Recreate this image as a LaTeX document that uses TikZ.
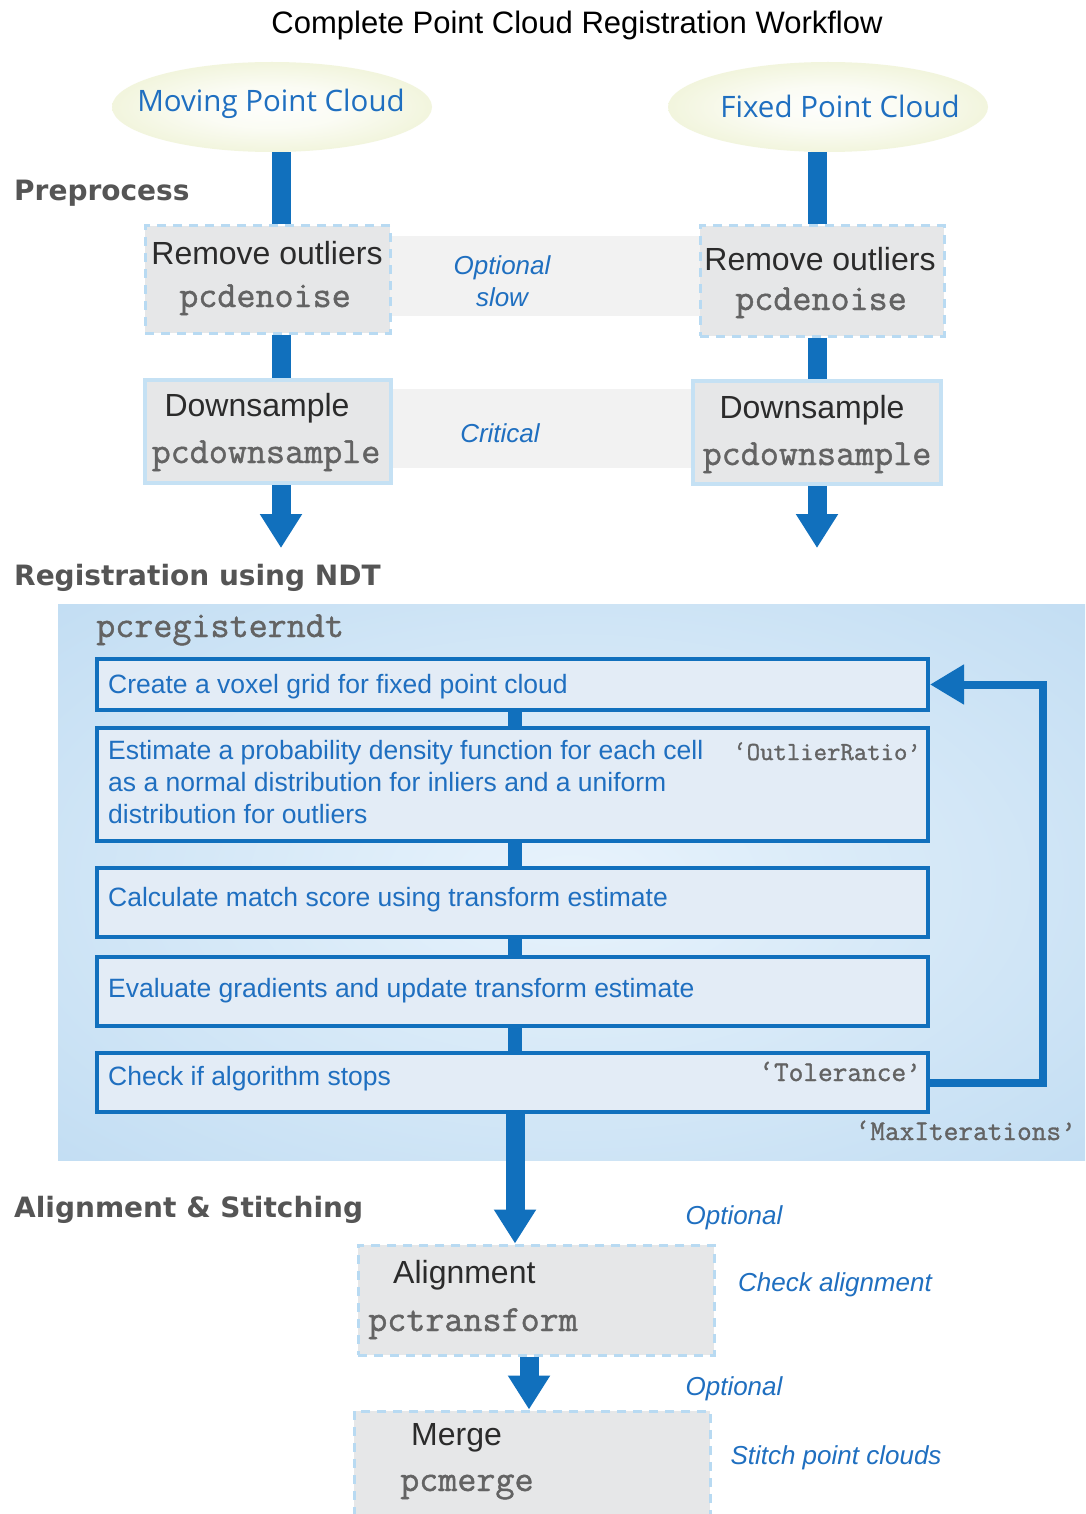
\documentclass[tikz,border=0pt]{standalone}
\usepackage{fontspec}
\setmainfont{Liberation Sans}
\newfontfamily\ellfont{Open Sans}
\newfontfamily\headfont{DejaVu Sans}
\newfontfamily\codefont[FakeBold=1.2]{Latin Modern Mono}
\usetikzlibrary{arrows.meta,shapes.geometric}
\pgfdeclarelayer{background}
\pgfsetlayers{background,main}
\definecolor{dblue}{HTML}{1170BD}
\definecolor{tblue}{HTML}{1F6FC0}
\definecolor{lblue}{HTML}{B8DAF2}
\definecolor{lblue2}{HTML}{C5E1F4}
\definecolor{boxgray}{HTML}{E6E7E8}
\definecolor{bandgray}{HTML}{F2F2F2}
\definecolor{iboxfill}{HTML}{E3ECF6}
\definecolor{txtdark}{HTML}{2B2B2B}
\definecolor{codegray}{HTML}{636363}
\definecolor{headgray}{HTML}{555555}
\definecolor{ellyel}{HTML}{E1E8B2}
\definecolor{regin}{HTML}{E8F3FC}
\definecolor{regout}{HTML}{C0DCF2}
\pgfdeclareradialshading{ellsh}{\pgfpoint{0bp}{0bp}}{color(0bp)=(white!96!ellyel); color(12bp)=(white!85!ellyel); color(50bp)=(ellyel)}
\pgfdeclareradialshading{regsh}{\pgfpoint{0bp}{0bp}}{color(0bp)=(regin); color(38bp)=(regout); color(72bp)=(regout)}
\newcommand\fsz[2]{\fontsize{#1}{#2}\selectfont}
\tikzset{
  mybar/.style={draw=dblue, line width=19pt},
  myarrow/.style={draw=dblue, line width=19pt, -{Triangle[width=40pt,length=34pt]}},
  myconn/.style={draw=dblue, line width=14pt},
  myloop/.style={draw=dblue, line width=8pt, -{Triangle[width=38pt,length=34pt]}},
  gbox/.style={rectangle, fill=boxgray, draw=lblue, line width=3pt, dash pattern=on 9pt off 7pt, inner sep=0pt},
  sbox/.style={rectangle, fill=boxgray, draw=lblue2, line width=3.5pt, inner sep=0pt},
  myband/.style={rectangle, fill=bandgray, inner sep=0pt},
  ibox/.style={rectangle, fill=iboxfill, draw=dblue, line width=4pt, inner sep=0pt, minimum width=831pt},
  lbl/.style={font=\fsz{32}{38}, text=txtdark, inner sep=0pt},
  code/.style={font=\codefont\fsz{37}{42}, text=codegray, inner sep=0pt},
  scode/.style={font=\codefont\fsz{26}{30}, text=codegray, inner sep=0pt, anchor=east},
  mynote/.style={font=\itshape\fsz{26}{31}, text=tblue, inner sep=0pt},
  itxt/.style={font=\fsz{26.5}{32}, text=tblue, inner sep=0pt, anchor=west, align=left},
  myhead/.style={font=\headfont\bfseries\fsz{28}{34}, text=headgray, anchor=west, inner sep=0pt},
  ellt/.style={font=\ellfont\fsz{29.5}{35}, text=tblue, inner sep=0pt},
}
\begin{document}
\begin{tikzpicture}[x=1pt,y=-1pt]
\useasboundingbox (0,0) rectangle (1085,1514);
\clip (0,0) rectangle (1085,1514);
\begin{pgfonlayer}{background}
\fill[white] (0,0) rectangle (1085,1514);
\end{pgfonlayer}

% title
\node[font=\fsz{31}{37}, text=black, inner sep=0pt] (title) at (577,25) {Complete Point Cloud Registration Workflow};

% ellipses
\node[ellipse, minimum width=320pt, minimum height=90pt, inner sep=0pt, shade, shading=ellsh] (ell1) at (272,107) {};
\node[ellt] (ell1t) at (271,104) {Moving Point Cloud};
\node[ellipse, minimum width=320pt, minimum height=90pt, inner sep=0pt, shade, shading=ellsh] (ell2) at (828,107) {};
\node[ellt] (ell2t) at (840,106) {Fixed Point Cloud};

% headings
\node[myhead] (h1) at (14,193) {Preprocess};
\node[myhead] (h2) at (14,578) {Registration using NDT};
\node[myhead] (h3) at (14,1210) {Alignment \& Stitching};

% bands
\node[myband, minimum width=310pt, minimum height=80pt] (band1) at (545,276) {};
\node[myband, minimum width=302pt, minimum height=79pt] (band2) at (542,428.5) {};
\node[mynote, align=center, font=\itshape\fsz{26}{32}] (n1) at (502,281) {Optional\\slow};
\node[mynote] (n2) at (500,433) {Critical};

% column x positions
\coordinate (lx) at (281,0);
\coordinate (rx) at (817,0);

% preprocessing boxes
\node[gbox, minimum width=245pt, minimum height=107pt] (rl1) at (267.5,279.5) {};
\node[gbox, minimum width=244pt, minimum height=110pt] (rr1) at (822,281) {};
\node[sbox, minimum width=246pt, minimum height=103pt] (dl) at (268,431.5) {};
\node[sbox, minimum width=248pt, minimum height=103pt] (dr) at (817,432.5) {};

\begin{pgfonlayer}{background}
\draw[mybar] (ell1.south -| lx) -- (rl1.north -| lx);
\draw[mybar] (rl1.south -| lx) -- (dl.north -| lx);
\draw[mybar] (ell2.south -| rx) -- (rr1.north -| rx);
\draw[mybar] (rr1.south -| rx) -- (dr.north -| rx);
\end{pgfonlayer}
\coordinate (la) at (281,548);
\coordinate (ra) at (817,548);
\draw[myarrow] (dl.south -| lx) -- (la);
\draw[myarrow] (dr.south -| rx) -- (ra);

% box texts
\node[lbl, anchor=base] (t1) at (267,265) {Remove outliers};
\node[code, anchor=base] (t2) at (265,307) {pcdenoise};
\node[lbl, anchor=base] (t3) at (820,270) {Remove outliers};
\node[code, anchor=base] (t4) at (821,310) {pcdenoise};
\node[lbl, anchor=base] (t5) at (257,416) {Downsample};
\node[code, anchor=base] (t6) at (266,463) {pcdownsample};
\node[lbl, anchor=base] (t7) at (812,418) {Downsample};
\node[code, anchor=base] (t8) at (817,465) {pcdownsample};

% registration region
\node[rectangle, minimum width=1027pt, minimum height=556pt, inner sep=0pt, shade, shading=regsh] (reg) at (571.5,882) {};
\node[code, anchor=base west] (regt) at (96,637) {pcregisterndt};

\coordinate (cx) at (515,0);
\node[ibox, minimum height=51pt] (b1) at (512.5,684.5) {};
\node[ibox, minimum height=113pt] (b2) at (512.5,784.5) {};
\node[ibox, minimum height=69pt] (b3) at (512.5,902.5) {};
\node[ibox, minimum height=69pt] (b4) at (512.5,991.5) {};
\node[ibox, minimum height=59pt] (b5) at (512.5,1082.5) {};
\draw[myconn] (b1.south -| cx) -- (b2.north -| cx);
\draw[myconn] (b2.south -| cx) -- (b3.north -| cx);
\draw[myconn] (b3.south -| cx) -- (b4.north -| cx);
\draw[myconn] (b4.south -| cx) -- (b5.north -| cx);
\draw[myloop] (b5.east) -- (1043,1082.5) |- (b1.east);

\node[itxt] (i1) at (108,687) {Create a voxel grid for fixed point cloud};
\node[itxt, anchor=north west] (i2) at (108,740) {Estimate a probability density function for each cell\\as a normal distribution for inliers and a uniform\\distribution for outliers};
\node[itxt] (i3) at (108,900) {Calculate match score using transform estimate};
\node[itxt] (i4) at (108,991) {Evaluate gradients and update transform estimate};
\node[itxt] (i5) at (108,1079) {Check if algorithm stops};
\node[scode, anchor=base east] (p1) at (921,760) {‘OutlierRatio’};
\node[scode, anchor=base east, font=\codefont\fsz{28.5}{32}] (p2) at (921,1081) {‘Tolerance’};
\node[scode, anchor=base east, font=\codefont\fsz{28.5}{32}] (p3) at (1076,1140) {‘MaxIterations’};

% alignment & merge
\node[gbox, minimum width=356pt, minimum height=110pt] (al) at (536,1300) {};
\node[gbox, minimum width=356pt, minimum height=120pt] (mg) at (532,1471) {};
\coordinate (ax) at (529,0);
\draw[myarrow] (b5.south -| cx) -- (al.north -| cx);
\draw[myarrow] (al.south -| ax) -- (mg.north -| ax);

\node[lbl, anchor=base west] (a1) at (393,1283) {Alignment};
\node[code, anchor=base west] (a2) at (368,1331) {pctransform};
\node[lbl, anchor=base west] (m1) at (411,1445) {Merge};
\node[code, anchor=base west] (m2) at (400,1491) {pcmerge};

\node[mynote] (o1) at (734,1218) {Optional};
\node[mynote] (o2) at (835,1285) {Check alignment};
\node[mynote] (o3) at (734,1389) {Optional};
\node[mynote] (o4) at (836,1458) {Stitch point clouds};
\end{tikzpicture}
\end{document}
